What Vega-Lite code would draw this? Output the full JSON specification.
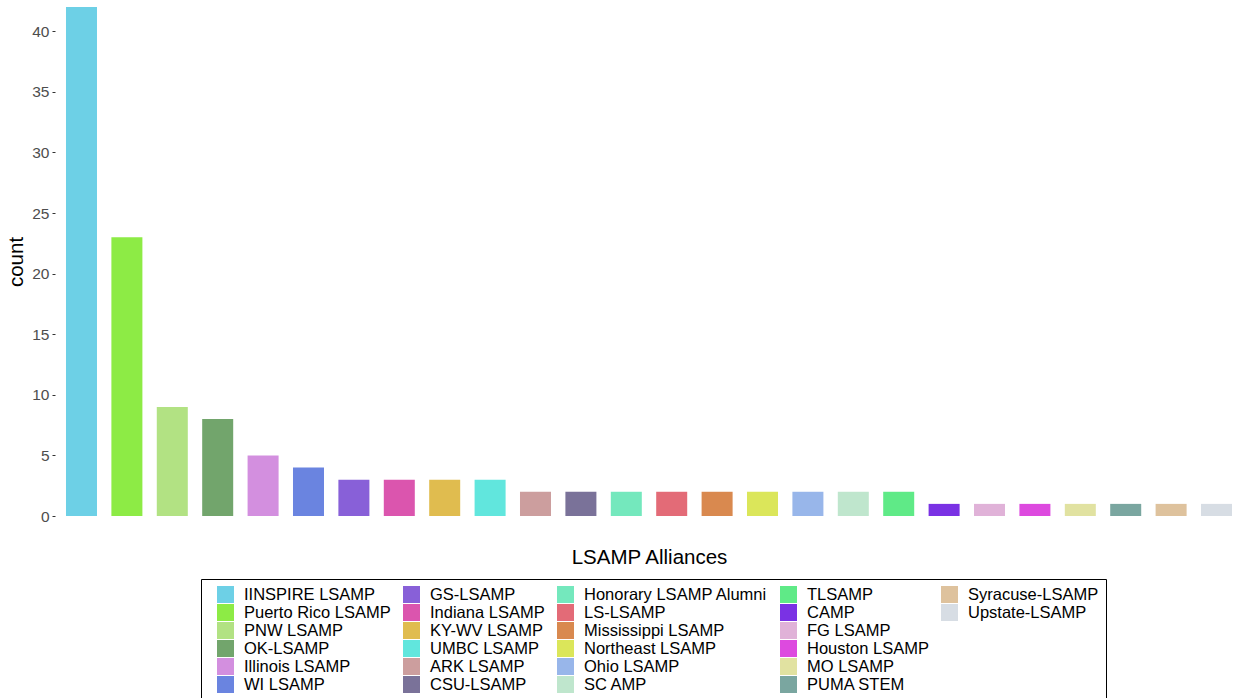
{
  "$schema": "https://vega.github.io/schema/vega-lite/v6.json",
  "width": 1188,
  "height": 509,
  "autosize": {"type": "none"},
  "padding": {"left": 55, "top": 7, "right": 0, "bottom": 182},
  "background": "white",
  "config": {
    "font": "Liberation Sans",
    "view": {"stroke": null}
  },
  "data": {
    "values": [
      {"alliance": "IINSPIRE LSAMP", "count": 42},
      {"alliance": "Puerto Rico LSAMP", "count": 23},
      {"alliance": "PNW LSAMP", "count": 9},
      {"alliance": "OK-LSAMP", "count": 8},
      {"alliance": "Illinois LSAMP", "count": 5},
      {"alliance": "WI LSAMP", "count": 4},
      {"alliance": "GS-LSAMP", "count": 3},
      {"alliance": "Indiana LSAMP", "count": 3},
      {"alliance": "KY-WV LSAMP", "count": 3},
      {"alliance": "UMBC LSAMP", "count": 3},
      {"alliance": "ARK LSAMP", "count": 2},
      {"alliance": "CSU-LSAMP", "count": 2},
      {"alliance": "Honorary LSAMP Alumni", "count": 2},
      {"alliance": "LS-LSAMP", "count": 2},
      {"alliance": "Mississippi LSAMP", "count": 2},
      {"alliance": "Northeast LSAMP", "count": 2},
      {"alliance": "Ohio LSAMP", "count": 2},
      {"alliance": "SC AMP", "count": 2},
      {"alliance": "TLSAMP", "count": 2},
      {"alliance": "CAMP", "count": 1},
      {"alliance": "FG LSAMP", "count": 1},
      {"alliance": "Houston LSAMP", "count": 1},
      {"alliance": "MO LSAMP", "count": 1},
      {"alliance": "PUMA STEM", "count": 1},
      {"alliance": "Syracuse-LSAMP", "count": 1},
      {"alliance": "Upstate-LSAMP", "count": 1}
    ]
  },
  "mark": {"type": "bar"},
  "encoding": {
    "x": {
      "field": "alliance",
      "type": "nominal",
      "sort": ["IINSPIRE LSAMP", "Puerto Rico LSAMP", "PNW LSAMP", "OK-LSAMP", "Illinois LSAMP", "WI LSAMP", "GS-LSAMP", "Indiana LSAMP", "KY-WV LSAMP", "UMBC LSAMP", "ARK LSAMP", "CSU-LSAMP", "Honorary LSAMP Alumni", "LS-LSAMP", "Mississippi LSAMP", "Northeast LSAMP", "Ohio LSAMP", "SC AMP", "TLSAMP", "CAMP", "FG LSAMP", "Houston LSAMP", "MO LSAMP", "PUMA STEM", "Syracuse-LSAMP", "Upstate-LSAMP"],
      "scale": {"paddingInner": 0.317, "paddingOuter": 0.242},
      "axis": {
        "title": "LSAMP Alliances",
        "labels": false,
        "ticks": false,
        "domain": false,
        "grid": false,
        "titleFontSize": 20.5,
        "titleFontWeight": "normal",
        "titleColor": "black",
        "titlePadding": 31
      }
    },
    "y": {
      "field": "count",
      "type": "quantitative",
      "scale": {"domain": [0, 42], "nice": false, "zero": true},
      "axis": {
        "title": "count",
        "values": [0, 5, 10, 15, 20, 25, 30, 35, 40],
        "grid": false,
        "domain": false,
        "tickSize": 3,
        "tickColor": "#333333",
        "labelColor": "#4D4D4D",
        "labelFontSize": 15.5,
        "labelPadding": 3,
        "titleFontSize": 20.5,
        "titleFontWeight": "normal",
        "titleColor": "black",
        "titlePadding": 5
      }
    },
    "color": {
      "field": "alliance",
      "type": "nominal",
      "scale": {
        "domain": ["IINSPIRE LSAMP", "Puerto Rico LSAMP", "PNW LSAMP", "OK-LSAMP", "Illinois LSAMP", "WI LSAMP",
                   "GS-LSAMP", "Indiana LSAMP", "KY-WV LSAMP", "UMBC LSAMP", "ARK LSAMP", "CSU-LSAMP",
                   "Honorary LSAMP Alumni", "LS-LSAMP", "Mississippi LSAMP", "Northeast LSAMP", "Ohio LSAMP", "SC AMP",
                   "TLSAMP", "CAMP", "FG LSAMP", "Houston LSAMP", "MO LSAMP", "PUMA STEM",
                   "Syracuse-LSAMP", "Upstate-LSAMP", " ", "  ", "   ", "    "],
        "range": ["#6DD0E6", "#8DEB45", "#B2E283", "#72A56C", "#D38FDF", "#6A84E0",
                  "#8860D8", "#DB55AE", "#E0BC4F", "#61E6DD", "#CC9E9E", "#7A7299",
                  "#74E8BD", "#E36B77", "#D9894F", "#DBE65A", "#98B6EA", "#BFE6CD",
                  "#5FEA87", "#7A32E4", "#E0B2D8", "#DD4ADF", "#E1E2A1", "#7AA6A0",
                  "#DEC29D", "#D7DDE4", "#FFFFFF", "#FFFFFF", "#FFFFFF", "#FFFFFF"]
      },
      "legend": {
        "title": null,
        "orient": "none",
        "legendX": 146,
        "legendY": 572,
        "columns": 5,
        "padding": 7,
        "symbolOffset": 9,
        "symbolType": "square",
        "symbolSize": 289,
        "symbolStrokeWidth": 0,
        "symbolOpacity": 1,
        "labelFontSize": 16.5,
        "labelColor": "black",
        "labelOffset": 10,
        "labelLimit": 400,
        "columnPadding": 3,
        "rowPadding": 1,
        "strokeColor": "black",
        "fillColor": "white"
      }
    }
  }
}
